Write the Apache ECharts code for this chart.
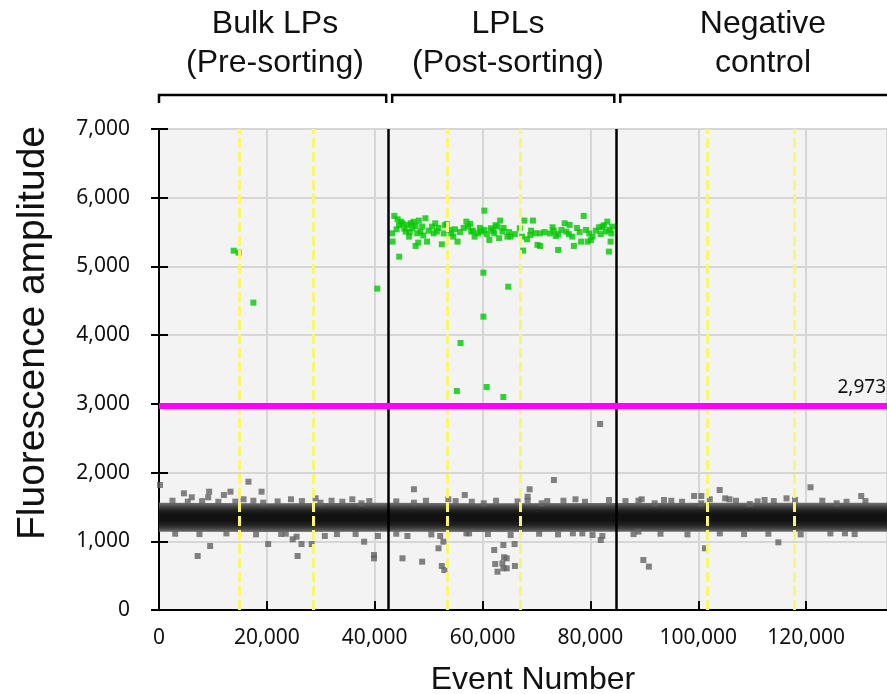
<!DOCTYPE html>
<html>
<head>
<meta charset="utf-8">
<script src="https://cdn.jsdelivr.net/npm/echarts@6/dist/echarts.min.js"></script>
<style>
  html, body { margin: 0; padding: 0; background: #fff; }
  #chart { width: 887px; height: 694px; }
</style>
</head>
<body>
<div id="chart"></div>
<script>
// wells / groups
const groupTitles = [["Bulk LPs", "(Pre-sorting)"], ["LPLs", "(Post-sorting)"], ["Negative", "control"]];
const wellSeparators = [42500, 84800];
const wellDividers = [14870, 28680, 53540, 67030, 101740, 117780];
const threshold = 2973;

const xTicks = [0, 20000, 40000, 60000, 80000, 100000, 120000];
const yTicks = [0, 1000, 2000, 3000, 4000, 5000, 6000, 7000];

// dense negative droplet band (lower / upper edge)
const bandX = [0, 20000, 42500, 60000, 84800, 105000, 135000];
const bandLow = [1140, 1135, 1140, 1135, 1140, 1138, 1140];
const bandHigh = [1560, 1555, 1560, 1555, 1558, 1560, 1560];

// negative droplets outside the dense band
const negativeDrops = [
  [180,1819],[4620,1698],[6080,1640],[5340,1577],[9300,1722],[9120,1640],[12030,1674],[13250,1722],
  [14160,1577],[15680,1611],[16590,1867],[19020,1722],[19320,1562],[24480,1611],[29040,1625],[29950,1562],
  [35850,1611],[37550,1553],
  [7170,786],[9480,931],[20240,960],[22660,1106],[24790,1029],[25520,1067],[25700,786],[26430,960],
  [28310,960],[30750,1077],[36460,1106],[38040,994],[39870,800],[39870,752],[40600,1077],
  [47270,1757],[47270,1562],[53650,1611],[56700,1674],[60220,1553],[68730,1757],[68360,1649],[68360,1591],
  [70970,1553],[73230,1892],[77230,1611],[83440,1601],
  [45150,752],[46070,1077],[48800,703],[51830,898],[52140,1077],[52740,994],[52440,640],[52920,582],
  [57010,1116],[62160,873],[62350,669],[62770,557],[63680,679],[63860,946],[63860,607],[63990,767],
  [64480,752],[64480,607],[65210,1091],[65940,960],[66000,640],[76750,1116],[80400,1091],[81910,1019],
  [82220,1077],[81800,2707],
  [88910,1591],[89510,1611],[91930,1553],[93650,1601],[99230,1659],[100570,1659],[100570,1553],[102140,1611],
  [103970,1746],[105000,1625],[105790,1611],[109560,1543],[112300,1601],[116370,1625],[117950,1601],
  [120810,1786],[125660,1553],[130220,1659],
  [88910,1140],[89820,728],[90840,631],[101230,898],[114850,985],[127200,1116],
  // speckle along the band edges
  [2500,1590],[8000,1585],[11000,1575],[17500,1590],[22000,1580],[26500,1585],[32000,1590],[34000,1575],
  [39000,1585],[44000,1580],[49500,1590],[55000,1585],[58000,1575],[62500,1590],[66500,1580],[72000,1585],
  [75000,1590],[79000,1575],[86500,1585],[95000,1590],[97000,1575],[107000,1590],[111000,1580],[114000,1585],
  [123000,1590],[127500,1575],[131000,1585],
  [3000,1110],[7500,1105],[12500,1115],[18000,1100],[23500,1110],[33000,1105],[44000,1110],[50500,1100],
  [57500,1115],[61000,1105],[70500,1110],[74000,1100],[78500,1115],[88000,1105],[93000,1110],[98000,1100],
  [104000,1115],[108500,1105],[113000,1110],[119000,1100],[124500,1115],[129000,1105]
];

// positive droplets
const positiveDrops = [
  [13850,5229],[14770,5200],[17500,4473],[40470,4677],
  [44540,5142],[60340,5812],[60160,4909],[64770,4705],[60160,4269],[55910,3886],[55240,3187],[60760,3245],[63860,3100],
  [43630,5735],[44240,5686],[44846,5652],[43205,5482],[43327,5361],[44056,5541],[45150,5628],[46061,5604],
  [45757,5507],[46365,5434],[46973,5555],[46669,5628],[47580,5589],[48188,5667],[47884,5482],[48492,5507],
  [49404,5701],[49707,5361],[47580,5298],[48067,5347],[50619,5579],[51227,5628],[51530,5507],[50923,5482],
  [52442,5322],[53354,5618],[53961,5531],[54873,5541],[54569,5434],[55359,5361],[56999,5652],[57304,5579],
  [57911,5507],[58519,5434],[59127,5482],[59734,5507],[60342,5531],[61254,5385],[61558,5555],[62165,5482],
  [62773,5579],[63259,5667],[63077,5410],[63684,5507],[64596,5434],[65204,5434],[66905,5555],[67331,5434],
  [67756,5667],[68242,5395],[69336,5667],[68850,5458],[69761,5482],[70673,5482],[70187,5313],[70673,5298],
  [67513,5230],[72982,5570],[73590,5443],[74015,5240],[74623,5531],[75231,5628],[75535,5507],[76142,5604],
  [76628,5434],[76932,5298],[78269,5361],[78755,5735],[79181,5531],[79485,5361],[80092,5385],[80396,5434],
  [81611,5570],[82219,5579],[83130,5652],[82827,5507],[83556,5531],[83738,5361],[83434,5216],[84042,5579],
  [44500,5600],[45500,5550],[46500,5500],[47200,5650],[48800,5580],[49000,5450],[50000,5520],[51800,5560],
  [52800,5480],[53000,5600],[54200,5480],[55800,5500],[56500,5560],[57700,5620],[58200,5520],[59500,5560],
  [60800,5470],[61900,5520],[62400,5600],[63900,5560],[64900,5500],[66000,5470],[69000,5520],[71500,5500],
  [72500,5480],[73200,5520],[74000,5470],[76000,5470],[77500,5560],[78000,5500],[79800,5480],[81000,5520],
  [81900,5470],[82500,5600],[83900,5480]
];

const fmt = v => v.toLocaleString("en-US");
const tickFont = "Noto Sans";
const titleFont = "Liberation Sans";

const chart = echarts.init(document.getElementById("chart"));

const markLines = [];
wellDividers.forEach(x => markLines.push({
  xAxis: x, lineStyle: { color: "#f8f86e", width: 3, type: [10, 4] }
}));
wellSeparators.forEach(x => markLines.push({
  xAxis: x, lineStyle: { color: "#000", width: 2.5, type: "solid" }
}));
markLines.push({ yAxis: threshold, lineStyle: { color: "#ff00ff", width: 6, type: "solid" } });

const bandFill = {
  type: "linear", x: 0, y: 0, x2: 0, y2: 1,
  colorStops: [
    { offset: 0, color: "#737373" },
    { offset: 0.12, color: "#4a4a4a" },
    { offset: 0.26, color: "#222" },
    { offset: 0.4, color: "#121212" },
    { offset: 0.6, color: "#121212" },
    { offset: 0.76, color: "#222" },
    { offset: 0.9, color: "#4a4a4a" },
    { offset: 1, color: "#737373" }
  ]
};

chart.setOption({
  animation: false,
  grid: {
    left: 159, top: 129, right: -13, bottom: 84,
    show: true, backgroundColor: "#f3f3f3", borderColor: "#000", borderWidth: 2
  },
  xAxis: [
    {
      type: "value", min: 0, max: 135000, interval: 20000,
      axisLine: { lineStyle: { color: "#000", width: 2 } },
      axisTick: { inside: true, length: 9, lineStyle: { color: "#000", width: 2 } },
      axisLabel: {
        fontSize: 21, fontFamily: tickFont, color: "#111", margin: 18,
        showMaxLabel: false,
        formatter: v => xTicks.includes(v) ? fmt(v) : ""
      },
      splitLine: { lineStyle: { color: "#d6d6d6", width: 2 } }
    },
    {
      type: "value", min: 0, max: 135000, position: "bottom", offset: 3,
      axisLine: { show: true, lineStyle: { color: "#000", width: 1.5 } },
      axisTick: { show: false }, axisLabel: { show: false }, splitLine: { show: false }
    }
  ],
  yAxis: [
    {
      type: "value", min: 0, max: 7000, interval: 1000,
      axisLine: { show: true, lineStyle: { color: "#000", width: 2 } },
      axisTick: { show: true, length: 8, lineStyle: { color: "#000", width: 2 } },
      axisLabel: {
        fontSize: 21, fontFamily: tickFont, color: "#111", margin: 29,
        formatter: v => yTicks.includes(v) ? fmt(v) : ""
      },
      splitLine: { lineStyle: { color: "#d6d6d6", width: 2 } }
    },
    {
      type: "value", min: 0, max: 7000, interval: 1000, position: "left",
      axisLine: { show: false },
      axisTick: { show: true, inside: true, length: 9, lineStyle: { color: "#000", width: 2 } },
      axisLabel: { show: false }, splitLine: { show: false }
    }
  ],
  series: [
    {
      // the whole band is drawn once, as one polygon through its edge points
      name: "band", type: "custom", silent: true, z: 2,
      encode: { x: 0, y: [1, 2] },
      data: bandX.map((x, i) => [x, bandLow[i], bandHigh[i]]),
      renderItem: (params, api) => {
        if (params.dataIndex !== 0) return null;
        const upper = bandX.map((x, i) => api.coord([x, bandHigh[i]]));
        const lower = bandX.map((x, i) => api.coord([x, bandLow[i]])).reverse();
        return {
          type: "polygon",
          shape: { points: upper.concat(lower) },
          style: { fill: bandFill, stroke: null }
        };
      }
    },
    {
      name: "negative", type: "scatter", symbol: "rect", symbolSize: 6, z: 3,
      itemStyle: { color: "#636363" },
      data: negativeDrops
    },
    {
      name: "positive", type: "scatter", symbol: "rect", symbolSize: 6, z: 4,
      itemStyle: { color: "#00c800" },
      data: positiveDrops,
      markLine: {
        silent: true, symbol: ["none", "none"], label: { show: false },
        data: markLines
      }
    }
  ]
});

// header brackets and texts, placed from the well boundaries
const px = v => chart.convertToPixel({ xAxisIndex: 0 }, v);
const edges = [0, ...wellSeparators];
const bracketY = 95, bracketDrop = 8;
const graphics = [];
edges.forEach((e, i) => {
  const x0 = px(e) + (i === 0 ? 0 : 4);
  const x1 = i < wellSeparators.length ? px(wellSeparators[i]) - 2 : 900;
  const pts = [[x0, bracketY + bracketDrop], [x0, bracketY], [x1, bracketY]];
  if (i < wellSeparators.length) pts.push([x1, bracketY + bracketDrop]);
  graphics.push({
    type: "polyline", shape: { points: pts },
    style: { stroke: "#000", lineWidth: 2.5, fill: null }
  });
});
const titleCenters = [275, 508, 763];
groupTitles.forEach((lines, i) => {
  lines.forEach((t, j) => graphics.push({
    type: "text", x: titleCenters[i], y: 24 + j * 39,
    style: { text: t, fontSize: 32, fontFamily: titleFont, fill: "#111", align: "center", verticalAlign: "middle" }
  }));
});
graphics.push({
  type: "text", x: 886, y: 388,
  style: { text: fmt(threshold), fontSize: 19, fontFamily: tickFont, fill: "#111", align: "right", verticalAlign: "middle" }
});
graphics.push({
  type: "text", x: 33, y: 333, rotation: Math.PI / 2,
  style: { text: "Fluorescence amplitude", fontSize: 39, fontFamily: titleFont, fill: "#111", align: "center", verticalAlign: "middle" }
});
graphics.push({
  type: "text", x: 533, y: 680,
  style: { text: "Event Number", fontSize: 32, fontFamily: titleFont, fill: "#111", align: "center", verticalAlign: "middle" }
});
chart.setOption({ graphic: graphics });
</script>
</body>
</html>
